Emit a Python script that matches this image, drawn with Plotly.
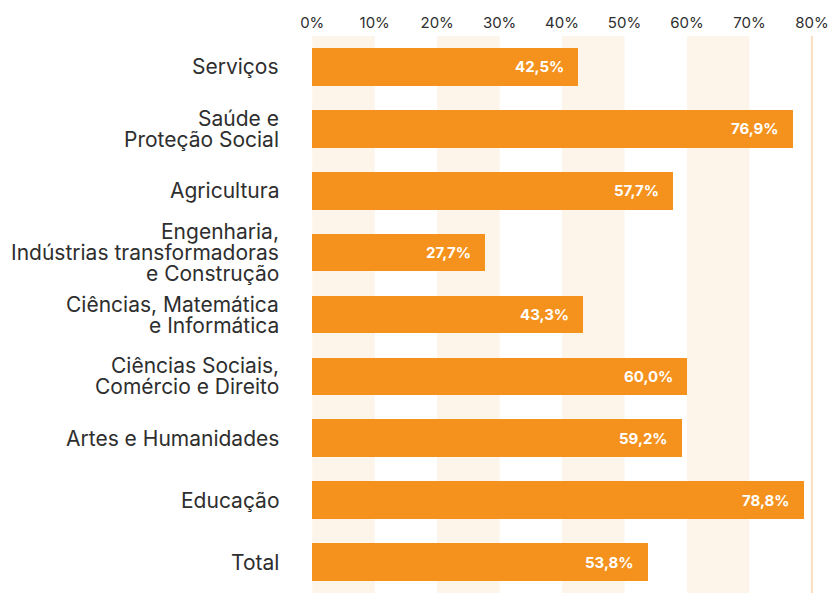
import plotly.graph_objects as go

# Categories (top to bottom) and share values in percent
categories = [
    "Serviços",
    "Saúde e<br>Proteção Social",
    "Agricultura",
    "Engenharia,<br>Indústrias transformadoras<br>e Construção",
    "Ciências, Matemática<br>e Informática",
    "Ciências Sociais,<br>Comércio e Direito",
    "Artes e Humanidades",
    "Educação",
    "Total",
]
values = [42.5, 76.9, 57.7, 27.7, 43.3, 60.0, 59.2, 78.8, 53.8]
tick_vals = [0, 10, 20, 30, 40, 50, 60, 70, 80]
tick_text = ["0%", "10%", "20%", "30%", "40%", "50%", "60%", "70%", "80%"]
band_ranges = [(0, 10), (20, 30), (40, 50), (60, 70)]

BAR = "#F5921E"
BAND = "#FDF4EA"
TEXT = "#2E2E2E"
FONT = "Inter, Lato, sans-serif"
LINE_H = 21  # spacing between lines of a category label

fig = go.Figure()
fig.add_trace(go.Bar(
    x=values,
    y=categories,
    orientation="h",
    marker=dict(color=BAR, line=dict(width=0)),
    width=0.61,
    hoverinfo="skip",
))

# Value labels inside the bar ends
for cat, v in zip(categories, values):
    fig.add_annotation(
        x=v, y=cat, xref="x", yref="y",
        text="<b>" + f"{v:.1f}".replace(".", ",") + "%</b>",
        showarrow=False, xanchor="right", xshift=-12,
        font=dict(family=FONT, size=15, color="white"),
    )

# Category labels, one annotation per line for tight leading
for cat in categories:
    lines = cat.split("<br>")
    n = len(lines)
    for i, line in enumerate(lines):
        offset = (i - (n - 1) / 2) * LINE_H
        fig.add_annotation(
            x=0, y=cat, xref="paper", yref="y",
            text=line, showarrow=False,
            xanchor="right", yanchor="middle",
            xshift=-31, yshift=-offset, borderpad=0,
            font=dict(family=FONT, size=21, color=TEXT),
        )

# Alternating background bands
for x0, x1 in band_ranges:
    fig.add_shape(type="rect", xref="x", yref="paper", x0=x0, x1=x1, y0=0, y1=1,
                  fillcolor=BAND, line=dict(width=0), layer="below")
# Reference line at 80%
fig.add_shape(type="line", xref="x", yref="paper", x0=80, x1=80, y0=0, y1=1,
              line=dict(color="#FBDDBE", width=2), layer="below")

fig.update_layout(
    width=831, height=593,
    margin=dict(l=311, r=16, t=36, b=0),
    paper_bgcolor="white", plot_bgcolor="white",
    showlegend=False,
    bargap=0,
    xaxis=dict(
        side="top", range=[-0.2, 80.5],
        tickvals=tick_vals, ticktext=tick_text,
        showgrid=False, zeroline=False, showline=False, ticks="",
        ticklabelstandoff=4,
        tickfont=dict(family=FONT, size=15, color=TEXT),
        fixedrange=True,
    ),
    yaxis=dict(
        categoryorder="array", categoryarray=categories, autorange="reversed",
        range=[8.5, -0.5],
        showgrid=False, zeroline=False, showline=False, ticks="",
        showticklabels=False,
        fixedrange=True,
    ),
)

fig.write_html("out.html")
